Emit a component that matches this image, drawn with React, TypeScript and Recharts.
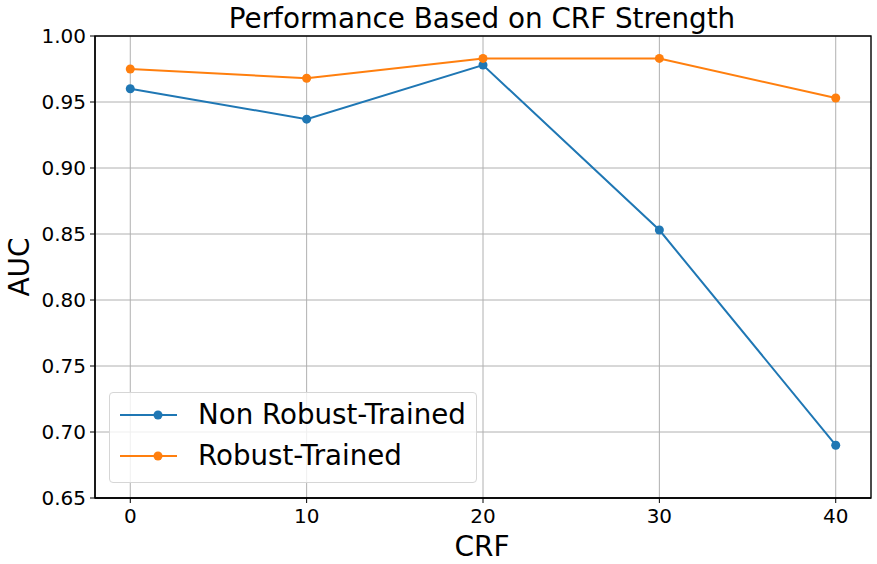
import React from "react";
import { LineChart, Line, XAxis, YAxis, CartesianGrid, ReferenceArea } from "recharts";

const crf = [0, 10, 20, 30, 40];
const nonRobust = [0.96, 0.937, 0.978, 0.853, 0.69];
const robust = [0.975, 0.968, 0.983, 0.983, 0.953];
const yTicks = [0.65, 0.7, 0.75, 0.8, 0.85, 0.9, 0.95, 1.0];
const xTicks = [0, 10, 20, 30, 40];
const xDomain = [-2, 42];
const yDomain = [0.65, 1.0];

const seriesNames = ["Non Robust-Trained", "Robust-Trained"];
const colors = ["#1f77b4", "#ff7f0e"];

const data = crf.map((c, i) => ({ crf: c, nonRobust: nonRobust[i], robust: robust[i] }));

const FONT = "DejaVu Sans, sans-serif";

const LegendBox = () => (
  <div
    style={{
      position: "absolute",
      left: 109,
      top: 392,
      width: 368,
      height: 91,
      border: "1px solid #d6d6d6",
      borderRadius: 4,
      background: "rgba(255,255,255,0.8)",
      fontFamily: FONT,
      fontSize: 27.7,
      color: "#000",
      boxSizing: "border-box",
    }}
  >
    {seriesNames.map((n, i) => (
      <div key={n} style={{ position: "absolute", left: 0, top: i === 0 ? 4 : 45, height: 36, width: 366 }}>
        <svg width={60} height={36} style={{ position: "absolute", left: 9, top: 0 }}>
          <line x1={1} y1={18} x2={58} y2={18} stroke={colors[i]} strokeWidth={2} />
          <circle cx={39} cy={18} r={4.5} fill={colors[i]} />
        </svg>
        <span style={{ position: "absolute", left: 88, top: 0, lineHeight: "36px", whiteSpace: "nowrap" }}>{n}</span>
      </div>
    ))}
  </div>
);

export default function App() {
  return (
    <div style={{ position: "absolute", left: 0, top: 0, width: 877, height: 564, background: "#fff" }}>
      <LineChart width={877} height={564} data={data} margin={{ top: 36, right: 6, bottom: 0, left: 0 }}>
        <CartesianGrid stroke="#b0b0b0" strokeWidth={1} />
        <XAxis
          dataKey="crf"
          type="number"
          domain={xDomain}
          ticks={xTicks}
          tick={{ fontSize: 20, fill: "#000", fontFamily: FONT }}
          tickLine={{ stroke: "#000" }}
          tickSize={5}
          tickMargin={6}
          axisLine={{ stroke: "#000", strokeWidth: 1.3 }}
          height={66}
        />
        <YAxis
          type="number"
          domain={yDomain}
          ticks={yTicks}
          tickFormatter={(v: number) => v.toFixed(2)}
          tick={{ fontSize: 20, fill: "#000", fontFamily: FONT }}
          tickLine={{ stroke: "#000" }}
          tickSize={5}
          tickMargin={4}
          axisLine={{ stroke: "#000", strokeWidth: 1.3 }}
          width={95}
        />
        <ReferenceArea
          x1={xDomain[0]}
          x2={xDomain[1]}
          y1={yDomain[0]}
          y2={yDomain[1]}
          fill="none"
          fillOpacity={0}
          stroke="#000"
          strokeWidth={1.3}
          ifOverflow="visible"
        />
        <Line dataKey="nonRobust" name={seriesNames[0]} stroke={colors[0]} strokeWidth={2} dot={{ r: 4.5, fill: colors[0], stroke: colors[0], strokeWidth: 0 }} isAnimationActive={false} />
        <Line dataKey="robust" name={seriesNames[1]} stroke={colors[1]} strokeWidth={2} dot={{ r: 4.5, fill: colors[1], stroke: colors[1], strokeWidth: 0 }} isAnimationActive={false} />
        <text x={482} y={28} textAnchor="middle" fontSize={27.8} fontFamily={FONT} fill="#000">
          Performance Based on CRF Strength
        </text>
        <text x={482} y={556} textAnchor="middle" fontSize={28} fontFamily={FONT} fill="#000">
          CRF
        </text>
        <text x={29} y={267} transform="rotate(-90 29 267)" textAnchor="middle" fontSize={28} fontFamily={FONT} fill="#000">
          AUC
        </text>
      </LineChart>
      <LegendBox />
    </div>
  );
}
